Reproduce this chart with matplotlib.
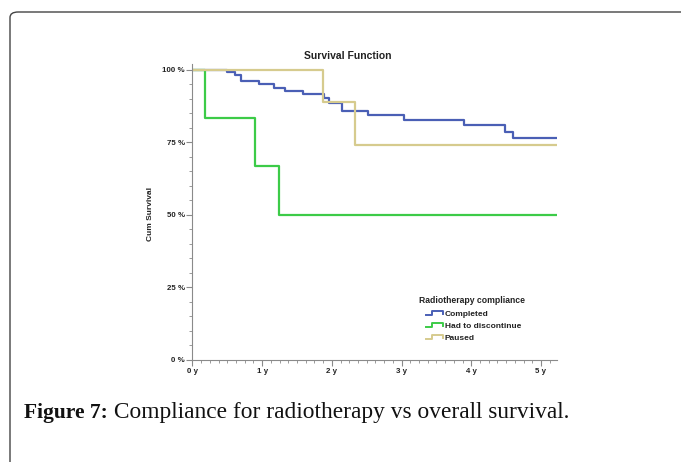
import matplotlib
matplotlib.use("Agg")
import matplotlib.pyplot as plt
from matplotlib.lines import Line2D
from matplotlib.legend_handler import HandlerBase
from matplotlib.patches import FancyBboxPatch
from matplotlib.ticker import MultipleLocator, FuncFormatter

# Kaplan-Meier steps (years, % surviving)
completed_t = [0, 0.50, 0.61, 0.70, 0.95, 1.17, 1.33, 1.58, 1.88, 1.96, 2.14, 2.52, 3.03, 3.89, 4.49, 4.60, 5.21]
completed_s = [100, 99.2, 98.3, 96.1, 95.0, 93.8, 92.7, 91.5, 90.2, 88.7, 85.9, 84.5, 82.8, 80.9, 78.7, 76.4, 76.4]

discontinue_t = [0, 0.18, 0.90, 1.24, 5.21]
discontinue_s = [100, 83.3, 66.7, 50.0, 50.0]

paused_t = [0, 1.87, 2.33, 5.21]
paused_s = [100, 89.0, 74.2, 74.2]

groups = ["Completed", "Had to discontinue", "Paused"]
colors = ["#4a5fb5", "#3ccb48", "#d6cb8e"]


class StepHandler(HandlerBase):
    def create_artists(self, legend, orig, xd, yd, w, h, fontsize, trans):
        xs = [xd, xd + 0.35 * w, xd + 0.35 * w, xd + w, xd + w]
        ys = [yd + 0.1 * h, yd + 0.1 * h, yd + 0.85 * h, yd + 0.85 * h, yd + 0.4 * h]
        ln = Line2D(xs, ys, color=orig.get_color(), lw=1.4, transform=trans)
        return [ln]


plt.rcParams['font.family'] = ['Liberation Sans', 'DejaVu Sans']

fig = plt.figure(figsize=(6.81, 4.62), dpi=100)
ax = fig.add_axes([192.5 / 681, 1 - 360 / 462, (557 - 192.5) / 681, (360 - 64) / 462])

handles = []
for t, s, c, name in [(completed_t, completed_s, colors[0], groups[0]),
                      (discontinue_t, discontinue_s, colors[1], groups[1]),
                      (paused_t, paused_s, colors[2], groups[2])]:
    ln, = ax.step(t, s, where='post', color=c, lw=1.6, label=name)
    handles.append(ln)

ax.set_xlim(0, 5.23)
ax.set_ylim(0, 102)
ax.xaxis.set_major_locator(MultipleLocator(1))
ax.xaxis.set_minor_locator(MultipleLocator(0.125))
ax.yaxis.set_major_locator(MultipleLocator(25))
ax.yaxis.set_minor_locator(MultipleLocator(5))
ax.xaxis.set_major_formatter(FuncFormatter(lambda v, p: f"{int(round(v))} y"))
ax.yaxis.set_major_formatter(FuncFormatter(lambda v, p: f"{int(round(v))} %"))

for side in ['top', 'right']:
    ax.spines[side].set_visible(False)
for side in ['left', 'bottom']:
    ax.spines[side].set_color('#8a8a8a')
    ax.spines[side].set_linewidth(0.8)

ax.tick_params(which='major', direction='out', length=4, width=0.8, color='#8a8a8a',
               labelsize=5.7, pad=1.5)
ax.tick_params(which='minor', direction='out', length=2, width=0.6, color='#8a8a8a')
for lab in ax.get_xticklabels() + ax.get_yticklabels():
    lab.set_fontweight('bold')
    lab.set_color('#222222')

fig.text(348 / 681, 1 - 56 / 462, "Survival Function", ha='center', va='center',
         fontsize=7.5, fontweight='bold', color='#222222')
fig.text(151 / 681, 1 - 214 / 462, "Cum Survival", rotation=90, ha='center', va='center',
         fontsize=6, fontweight='bold', color='#222222')

fig.text(419 / 681, 1 - 300.5 / 462, "Radiotherapy compliance", ha='left', va='center',
         fontsize=6.2, fontweight='bold', color='#222222')
leg = ax.legend(handles=handles, labels=groups, handler_map={Line2D: StepHandler()},
                loc='upper left', bbox_to_anchor=(426 / 681, 1 - 310 / 462),
                bbox_transform=fig.transFigure, frameon=False,
                prop={'size': 6, 'weight': 'bold'},
                handlelength=2.0, handletextpad=0.25, labelspacing=0.5, borderpad=0,
                borderaxespad=0)
for txt in leg.get_texts():
    txt.set_color('#222222')

# page frame around the figure
frame = FancyBboxPatch((10 / 681, -0.1), 1.2, 1 - 12 / 462 + 0.1,
                       boxstyle="round,pad=0,rounding_size=0.012",
                       transform=fig.transFigure, fill=False, ec='#444444', lw=1.0)
fig.add_artist(frame)

t1 = fig.text(24 / 681, 1 - 418 / 462, "Figure 7:", ha='left', va='baseline',
              fontsize=15.5, fontweight='bold', family='Liberation Serif', color='#111111')
ax.annotate(" Compliance for radiotherapy vs overall survival.", xy=(1, 0), xycoords=t1,
            ha='left', va='bottom', fontsize=16.8, family='Liberation Serif', color='#111111',
            annotation_clip=False)

fig.savefig("out.png", dpi=100)
